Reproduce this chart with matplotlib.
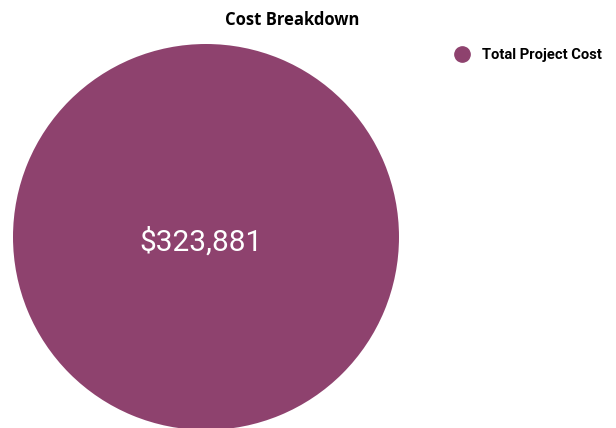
import matplotlib.pyplot as plt
from matplotlib.lines import Line2D

labels = ["Total Project Cost"]
values = [323881]
colors = ["#8e426e"]

fig = plt.figure(figsize=(6.16, 4.28), dpi=100)

# pie axes: centre ~ (206, 237) px, radius ~193 px
ax = fig.add_axes([13 / 616, -2 / 428, 386 / 616, 386 / 428])
wedges, texts = ax.pie(values, colors=colors, radius=1, startangle=90,
                       wedgeprops={"linewidth": 0})
for w in wedges:
    w.set_clip_on(False)
ax.set_xlim(-1, 1)
ax.set_ylim(-1, 1)
ax.set_aspect("equal")
ax.axis("off")

ax.text(-0.026, -0.0725, "${:,}".format(values[0]), ha="center", va="baseline",
        color="white", fontsize=21.5, family="Roboto")

fig.text(292 / 616, 1 - 25 / 428, "Cost Breakdown", ha="center", va="baseline",
         fontsize=12, fontweight="bold", family="Open Sans")

handles = [Line2D([0], [0], marker="o", linestyle="", markersize=11,
                  markerfacecolor=c, markeredgecolor=c) for c in colors]
fig.legend(handles, labels, loc="center left", bbox_to_anchor=(455 / 616, 1 - 55 / 428),
           frameon=False, handletextpad=0.84, borderpad=0, borderaxespad=0,
           handlelength=1.0,
           prop={"family": "Roboto", "weight": "bold", "size": 10.6})

fig.savefig("out.png", dpi=100)
